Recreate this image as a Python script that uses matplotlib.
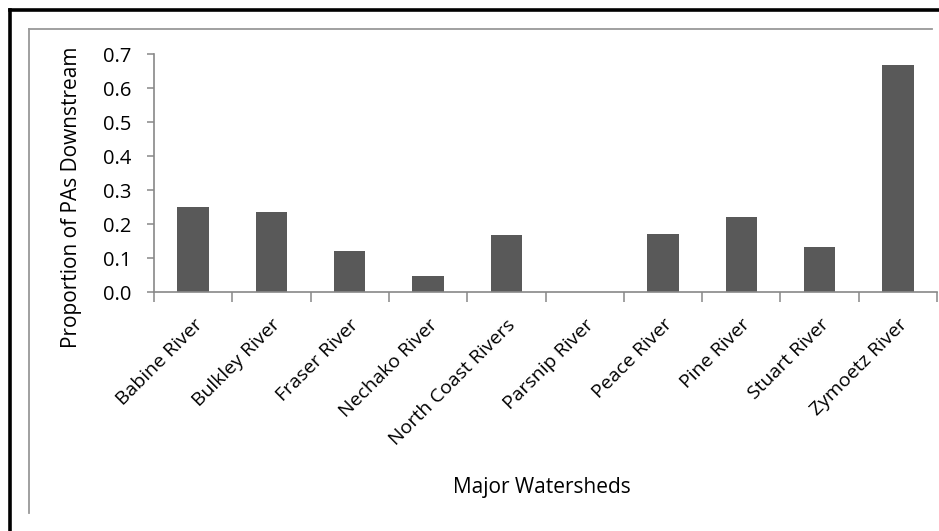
import matplotlib
matplotlib.use("Agg")
import matplotlib.pyplot as plt
from matplotlib.lines import Line2D

# Datos
watersheds = ["Babine River", "Bulkley River", "Fraser River", "Nechako River",
              "North Coast Rivers", "Parsnip River", "Peace River", "Pine River",
              "Stuart River", "Zymoetz River"]
proportions = [0.250, 0.235, 0.122, 0.048, 0.167, 0.0, 0.172, 0.222, 0.133, 0.667]
yticks = [0.0, 0.1, 0.2, 0.3, 0.4, 0.5, 0.6, 0.7]

W, H = 939, 531
plt.rcParams["font.family"] = ["Open Sans", "DejaVu Sans"]

fig = plt.figure(figsize=(W / 100, H / 100), dpi=100)


def px(x0, y0, x1, y1):
    return [x0 / W, x1 / W], [1 - y0 / H, 1 - y1 / H]


# marco exterior negro (recortado a la derecha y abajo)
xs, ys = px(9.5, 9.5, W + 5, 9.5)
fig.add_artist(Line2D(xs, ys, color="black", linewidth=2.6))
xs, ys = px(9.5, 9.5, 9.5, H + 5)
fig.add_artist(Line2D(xs, ys, color="black", linewidth=2.6))
# marco interior gris
xs, ys = px(29, 29, 932, 29)
fig.add_artist(Line2D(xs, ys, color="#999999", linewidth=1.3))
xs, ys = px(29, 29, 29, 513)
fig.add_artist(Line2D(xs, ys, color="#999999", linewidth=1.3))

ax_left, ax_right = 154, 937
ax_top, ax_bottom = 54, 292
ax = fig.add_axes([ax_left / W, 1 - ax_bottom / H,
                   (ax_right - ax_left) / W, (ax_bottom - ax_top) / H])

x = list(range(len(watersheds)))
ax.bar(x, proportions, width=0.40, color="#595959", zorder=2)

ax.set_xlim(-0.5, len(watersheds) - 0.5)
ax.set_ylim(0, 0.7)
ax.set_yticks(yticks)
ax.set_yticklabels([f"{v:.1f}" for v in yticks], fontsize=14.5)

# ticks del eje x en los límites entre categorías
ax.set_xticks([i - 0.5 for i in range(len(watersheds) + 1)])
ax.set_xticklabels([])
ax.set_xticks(x, minor=True)
ax.set_xticklabels(watersheds, minor=True, rotation=45, ha="right",
                   rotation_mode="anchor", fontsize=14)
ax.tick_params(axis="x", which="minor", length=0, pad=17)
ax.tick_params(axis="x", which="major", length=7, width=1.1, color="#888888", direction="out")
ax.tick_params(axis="y", length=5, width=1.1, color="#888888", direction="out", pad=11.5)

for side in ["top", "right"]:
    ax.spines[side].set_visible(False)
for side in ["left", "bottom"]:
    ax.spines[side].set_color("#888888")
    ax.spines[side].set_linewidth(1.2)

fig.text(72 / W, 1 - 197 / H, "Proportion of PAs Downstream", rotation=90,
         ha="center", va="center", fontsize=15)
fig.text(542 / W, 1 - 488 / H, "Major Watersheds", ha="center", va="center",
         fontsize=15)

fig.savefig("out.png", dpi=100, facecolor="white")
